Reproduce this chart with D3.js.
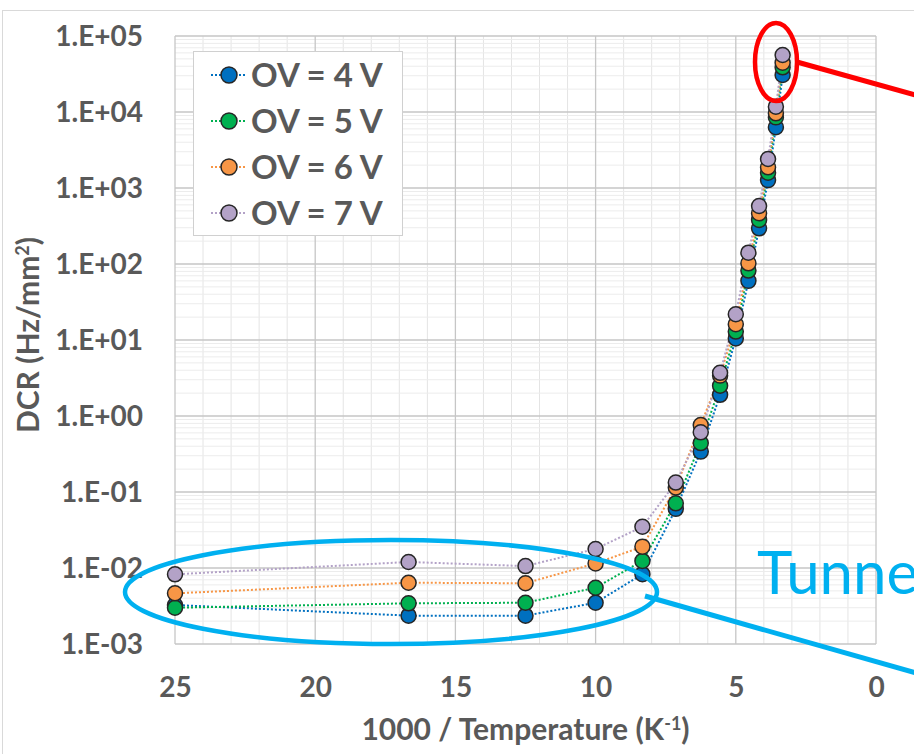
<!DOCTYPE html>
<html>
<head>
<meta charset="utf-8">
<script src="https://cdn.jsdelivr.net/npm/d3@7"></script>
<style>
  html, body { margin: 0; padding: 0; background: #fff; }
  svg { display: block; }
  text { font-family: Lato, "Open Sans", sans-serif; }
</style>
</head>
<body>
<svg id="chart" width="914" height="754"></svg>
<script>
// 1000 / Temperature (K^-1) for each measurement temperature
const invTemp = [25, 16.67, 12.5, 10, 8.33, 7.14, 6.25, 5.56, 5, 4.55, 4.17, 3.85, 3.57, 3.33];

// Dark count rate (Hz/mm^2) per over-voltage
const dcrOV4 = [3.26e-3, 2.36e-3, 2.36e-3, 3.49e-3, 8.3e-3, 0.060, 0.34, 1.9, 10.5, 60, 295, 1270, 6300, 30700];
const dcrOV5 = [3.0e-3, 3.43e-3, 3.49e-3, 5.5e-3, 1.24e-2, 0.071, 0.44, 2.5, 12.9, 82, 380, 1590, 8500, 38700];
const dcrOV6 = [4.64e-3, 6.4e-3, 6.3e-3, 1.15e-2, 1.91e-2, 0.115, 0.76, 3.4, 16.1, 102, 465, 1870, 9600, 44500];
const dcrOV7 = [8.26e-3, 1.2e-2, 1.06e-2, 1.78e-2, 3.49e-2, 0.133, 0.61, 3.7, 21.8, 141, 580, 2410, 11750, 56200];

const seriesNames = ["OV = 4 V", "OV = 5 V", "OV = 6 V", "OV = 7 V"];
const seriesColors = ["#0070C0", "#00B050", "#F79646", "#B3A2C7"];

const xTicks = [25, 20, 15, 10, 5, 0];
const yTicks = [1e-3, 1e-2, 1e-1, 1e0, 1e1, 1e2, 1e3, 1e4, 1e5];
const yTickLabels = ["1.E-03", "1.E-02", "1.E-01", "1.E+00", "1.E+01", "1.E+02", "1.E+03", "1.E+04", "1.E+05"];

const series = [dcrOV4, dcrOV5, dcrOV6, dcrOV7].map((vals, i) => ({
  name: seriesNames[i],
  color: seriesColors[i],
  points: vals.map((v, j) => ({ x: invTemp[j], y: v }))
}));

const svg = d3.select("#chart");
const plotLeft = 175, plotRight = 876, plotTop = 36, plotBottom = 644;

const x = d3.scaleLinear().domain([25, 0]).range([plotLeft, plotRight]);
const y = d3.scaleLog().domain([1e-3, 1e5]).range([plotBottom, plotTop]);

const textColor = "#595959";

// chart frame
svg.append("rect")
  .attr("x", 2.5).attr("y", 10.5).attr("width", 1000).attr("height", 800)
  .attr("fill", "#fff").attr("stroke", "#d9d9d9").attr("stroke-width", 1);

const grid = svg.append("g");

// minor gridlines
const xMinor = d3.range(1, 25).filter(v => v % 5 !== 0);
grid.selectAll("line.xminor").data(xMinor).join("line")
  .attr("x1", d => x(d)).attr("x2", d => x(d))
  .attr("y1", plotTop).attr("y2", plotBottom)
  .attr("stroke", "#e4e4e4").attr("stroke-width", 1);

const yMinor = [];
for (let e = -3; e < 5; e++) for (let m = 2; m <= 9; m++) yMinor.push(m * Math.pow(10, e));
grid.selectAll("line.yminor").data(yMinor).join("line")
  .attr("x1", plotLeft).attr("x2", plotRight)
  .attr("y1", d => y(d)).attr("y2", d => y(d))
  .attr("stroke", "#ececec").attr("stroke-width", 1);

// major gridlines
grid.selectAll("line.xmajor").data(xTicks).join("line")
  .attr("x1", d => x(d)).attr("x2", d => x(d))
  .attr("y1", plotTop).attr("y2", plotBottom)
  .attr("stroke", "#c6c6c6").attr("stroke-width", 1.3);
grid.selectAll("line.ymajor").data(yTicks).join("line")
  .attr("x1", plotLeft).attr("x2", plotRight)
  .attr("y1", d => y(d)).attr("y2", d => y(d))
  .attr("stroke", "#c6c6c6").attr("stroke-width", 1.3);

// axes (labels only)
const xAxis = d3.axisBottom(x).tickValues(xTicks).tickSize(0).tickPadding(0)
  .tickFormat(d3.format("d"));
const gx = svg.append("g").attr("transform", `translate(0, ${plotBottom})`).call(xAxis);
gx.select(".domain").remove();
gx.selectAll("text")
  .attr("y", 43).attr("dy", "0.35em")
  .attr("fill", textColor).attr("font-size", 28).attr("font-weight", 700)
  .attr("font-family", "Lato, sans-serif");

const yAxis = d3.axisLeft(y).tickValues(yTicks).tickSize(0).tickPadding(0)
  .tickFormat((d, i) => yTickLabels[i]);
const gy = svg.append("g").attr("transform", `translate(${plotLeft}, 0)`).call(yAxis);
gy.select(".domain").remove();
gy.selectAll("text")
  .attr("x", -32).attr("dy", "0.35em")
  .attr("fill", textColor).attr("font-size", 28).attr("font-weight", 700)
  .attr("font-family", "Lato, sans-serif");

// axis titles
const xTitle = svg.append("text")
  .attr("x", (plotLeft + plotRight) / 2).attr("y", 740)
  .attr("text-anchor", "middle")
  .attr("fill", textColor).attr("font-size", 30).attr("font-weight", 700);
xTitle.append("tspan").text("1000 / Temperature (K");
xTitle.append("tspan").attr("dy", -10).attr("font-size", 18).text("-1");
xTitle.append("tspan").attr("dy", 10).text(")");

const yTitle = svg.append("text")
  .attr("transform", `translate(39, ${(plotTop + plotBottom) / 2 - 5}) rotate(-90)`)
  .attr("text-anchor", "middle")
  .attr("fill", textColor).attr("font-size", 30).attr("font-weight", 700);
yTitle.append("tspan").text("DCR (Hz/mm");
yTitle.append("tspan").attr("dy", -10).attr("font-size", 18).text("2");
yTitle.append("tspan").attr("dy", 10).text(")");

// series lines
const line = d3.line().x(d => x(d.x)).y(d => y(d.y));
svg.append("g").selectAll("path").data(series).join("path")
  .attr("d", d => line(d.points))
  .attr("fill", "none")
  .attr("stroke", d => d.color)
  .attr("stroke-width", 2)
  .attr("stroke-dasharray", "2 2");

// series markers
series.forEach(s => {
  svg.append("g").selectAll("circle").data(s.points).join("circle")
    .attr("cx", d => x(d.x)).attr("cy", d => y(d.y))
    .attr("r", 7.5)
    .attr("fill", s.color)
    .attr("stroke", "#262626").attr("stroke-width", 1.5);
});

// legend
const legend = svg.append("g");
legend.append("rect")
  .attr("x", 193.5).attr("y", 51.5).attr("width", 209).attr("height", 184)
  .attr("fill", "#fff").attr("stroke", "#d0d0d0").attr("stroke-width", 1);
series.forEach((s, i) => {
  const cy = 75 + i * 46;
  legend.append("line")
    .attr("x1", 211).attr("x2", 246).attr("y1", cy).attr("y2", cy)
    .attr("stroke", s.color).attr("stroke-width", 2).attr("stroke-dasharray", "2 2");
  legend.append("circle")
    .attr("cx", 229).attr("cy", cy).attr("r", 8)
    .attr("fill", s.color).attr("stroke", "#262626").attr("stroke-width", 1.5);
  legend.append("text")
    .attr("x", 251).attr("y", cy).attr("dy", "0.36em")
    .attr("fill", textColor).attr("font-size", 33).attr("font-weight", 700)
    .text(s.name);
});

// callout: room-temperature points
svg.append("ellipse")
  .attr("cx", 776).attr("cy", 62).attr("rx", 21).attr("ry", 39)
  .attr("fill", "none").attr("stroke", "#FF0000").attr("stroke-width", 4.5);
svg.append("line")
  .attr("x1", 797).attr("y1", 62).attr("x2", 930).attr("y2", 99)
  .attr("stroke", "#FF0000").attr("stroke-width", 5);

// callout: low-temperature tunneling region
svg.append("ellipse")
  .attr("cx", 391).attr("cy", 592).attr("rx", 266).attr("ry", 52)
  .attr("fill", "none").attr("stroke", "#00B0F0").attr("stroke-width", 4.5);
svg.append("line")
  .attr("x1", 645).attr("y1", 596).attr("x2", 930).attr("y2", 677)
  .attr("stroke", "#00B0F0").attr("stroke-width", 5);
svg.append("text")
  .attr("x", 757).attr("y", 594)
  .attr("fill", "#00B0F0").attr("font-size", 60).attr("font-weight", 400)
  .text("Tunneling");
</script>
</body>
</html>
